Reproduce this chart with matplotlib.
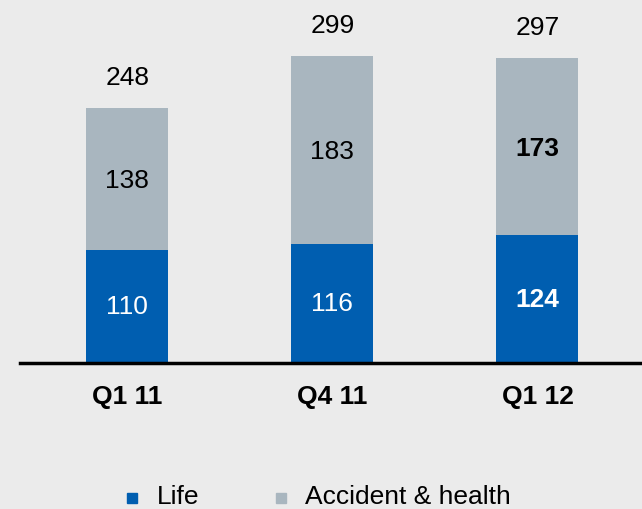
import matplotlib.pyplot as plt
from matplotlib.patches import Rectangle

plt.rcParams['font.family'] = ['Liberation Sans', 'DejaVu Sans']

quarters = ["Q1 11", "Q4 11", "Q1 12"]
life = [110, 116, 124]
accident = [138, 183, 173]
totals = [248, 299, 297]
series_names = ["Life", "Accident & health"]

blue = "#005EB0"
gray = "#A9B6BF"
bg = "#EBEBEB"

fig = plt.figure(figsize=(6.42, 5.09), dpi=100, facecolor=bg)
ax = fig.add_axes([20 / 642, 146 / 509, 622 / 642, 363 / 509], facecolor=bg)

x = list(range(len(quarters)))
ax.bar(x, life, width=0.4, color=blue)
ax.bar(x, accident, width=0.4, bottom=life, color=gray)

for i in x:
    weight = "bold" if i == 2 else "normal"
    ax.text(i, life[i] / 2 - 1, str(life[i]), ha="center", va="center",
            color="white", fontsize=19, fontweight=weight)
    ax.text(i, life[i] + accident[i] / 2 - 2, str(accident[i]), ha="center",
            va="center", color="black", fontsize=19, fontweight=weight)
    ax.text(i, totals[i] + 29, str(totals[i]), ha="center", va="center",
            color="black", fontsize=19)

ax.set_xlim(-0.524, 2.51)
ax.set_ylim(0, 353)
for s in ["top", "right", "left"]:
    ax.spines[s].set_visible(False)
ax.spines["bottom"].set_linewidth(2.5)
ax.spines["bottom"].set_color("black")
ax.set_yticks([])
ax.set_xticks(x)
ax.set_xticklabels(quarters, fontsize=19, fontweight="bold")
ax.tick_params(axis="x", length=0, pad=16)

# legend
leg_items = [(127, series_names[0], blue, 157), (276, series_names[1], gray, 305)]
for sx, name, col, tx in leg_items:
    fig.add_artist(Rectangle((sx / 642, (509 - 503) / 509), 10 / 642, 10 / 509,
                             transform=fig.transFigure, color=col))
    fig.text(tx / 642, (509 - 497) / 509, name, fontsize=19, va="center", ha="left")

fig.savefig("out.png", dpi=100, facecolor=bg)
